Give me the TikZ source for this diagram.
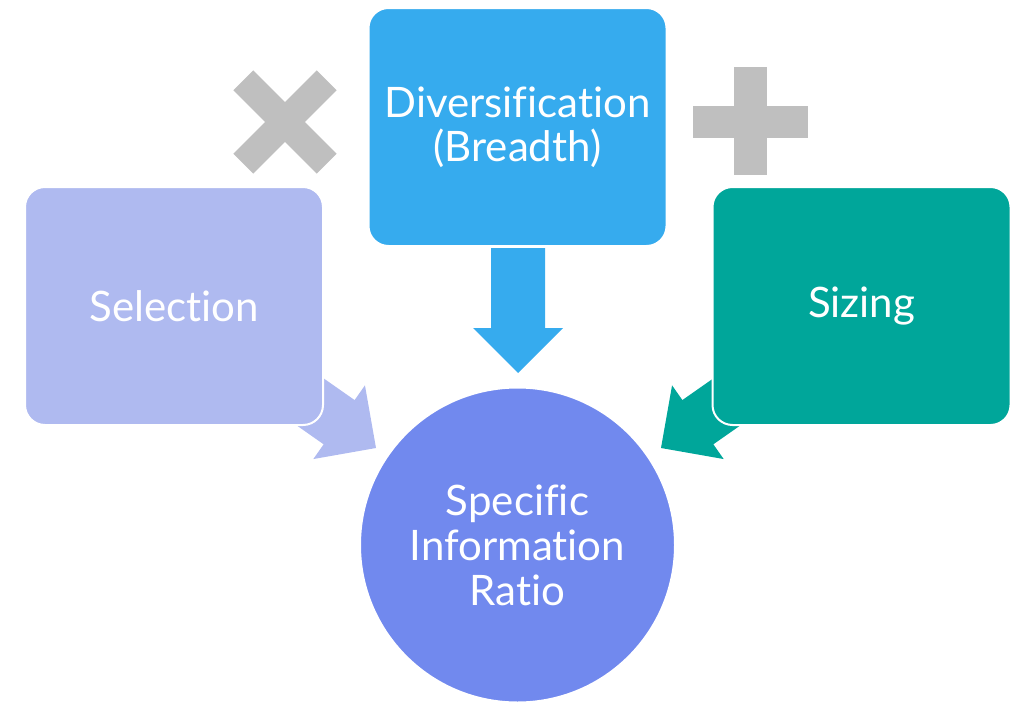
\documentclass[tikz,border=0pt]{standalone}
\usepackage{fontspec}
\setmainfont[Ligatures={NoCommon,NoRare}]{Lato}
\definecolor{selcol}{HTML}{AFBAF0}
\definecolor{divcol}{HTML}{36ABEE}
\definecolor{sizcol}{HTML}{00A69A}
\definecolor{ircol}{HTML}{7189EE}
\definecolor{signcol}{HTML}{BFBFBF}
\tikzset{
  box/.style={draw=white, line width=2pt, rounded corners=20pt,
    minimum width=298pt, minimum height=238pt, text=white,
    align=center, inner sep=0pt},
  ratio/.style={circle, draw=white, line width=2pt, minimum size=315pt,
    text=white, align=center, inner sep=0pt},
  boxfont/.style={font=\fontsize{42}{44}\selectfont},
  divfont/.style={font=\fontsize{42}{44}\selectfont},
  ratiofont/.style={font=\fontsize{42}{45}\selectfont},
  sign/.style={fill=signcol},
  blockarrow/.pic={
    \fill[pic actions] (0,0) -- (-45,45) -- (-45,27) -- (-125,27)
      -- (-125,-27) -- (-45,-27) -- (-45,-45) -- cycle;
  }
}
\begin{document}
\begin{tikzpicture}[x=1pt,y=-1pt]
\useasboundingbox (0,0) rectangle (1017,704);

% block arrows feeding the ratio (drawn first so the boxes cover their tails)
\coordinate (tipsel) at (376,448);
\coordinate (tipdiv) at (518,373);
\coordinate (tipsiz) at (661,448);
\pic[fill=selcol, rotate=-35] at (tipsel) {blockarrow};
\pic[fill=divcol, rotate=-90] at (tipdiv) {blockarrow};
\pic[fill=sizcol, rotate=-145] at (tipsiz) {blockarrow};

% the three inputs
\node[box, boxfont, fill=selcol] (sel) at (174,306) {Selection};
\node[box, divfont, fill=divcol] (div) at (517.5,127) {Diversification\\(Breadth)};
\node[box, boxfont, fill=sizcol] (siz) at (861.5,306) {Sizing};

% the outcome
\node[ratio, ratiofont, fill=ircol] (ir) at (517.5,545) {Specific\\Information\\Ratio};

% multiplication sign
\begin{scope}[shift={(285,122)}]
  \fill[sign, rotate=45] (-59,-14) rectangle (59,14);
  \fill[sign, rotate=-45] (-59,-14) rectangle (59,14);
\end{scope}

% plus sign
\begin{scope}[shift={(750.5,122)}]
  \fill[sign] (-16.5,-55) rectangle (16.5,53);
  \fill[sign] (-57.5,-16) rectangle (57.5,16);
\end{scope}
\end{tikzpicture}
\end{document}
